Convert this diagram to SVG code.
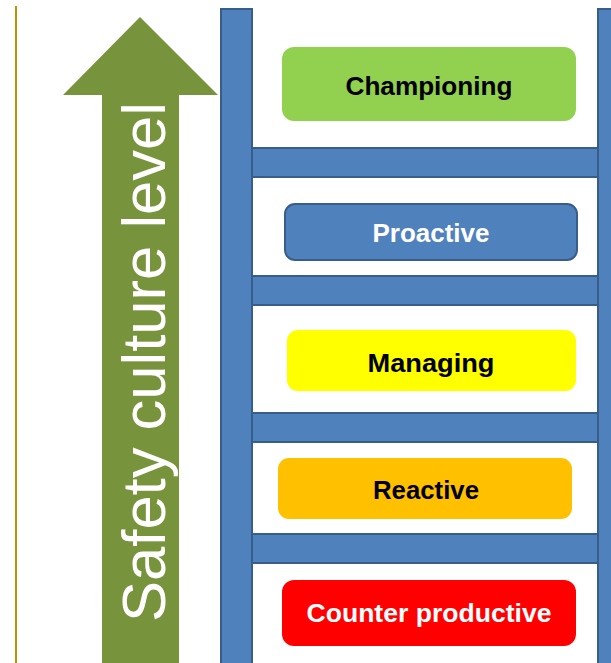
<svg xmlns="http://www.w3.org/2000/svg" width="611" height="663" viewBox="0 0 611 663">
  <style>
    .rail { fill: #4f81bd; stroke: #385d8a; stroke-width: 2; }
    .level { stroke-width: 0; }
    .label { font-family: "Liberation Sans", Arial, sans-serif; font-weight: bold; font-size: 26px; text-anchor: middle; }
    .dark { fill: #000000; }
    .light { fill: #ffffff; }
  </style>
  <rect width="611" height="663" fill="#ffffff"/>

  <!-- left margin rule -->
  <line x1="16" y1="6" x2="16" y2="663" stroke="#bf9000" stroke-width="2"/>

  <!-- upward arrow with axis title -->
  <g id="axis-arrow">
    <polygon points="140,17 218,95 179,95 179,663 102,663 102,95 63,95" fill="#77933c"/>
    <text transform="translate(165,622) rotate(-90)" font-family="'Liberation Sans', Arial, sans-serif" font-size="61" fill="#ffffff" textLength="520" lengthAdjust="spacingAndGlyphs">Safety culture level</text>
  </g>

  <!-- ladder -->
  <g id="connectors">
    <rect class="rail" x="240" y="148" width="370" height="29"/>
    <rect class="rail" x="240" y="276" width="370" height="29"/>
    <rect class="rail" x="240" y="413" width="370" height="29"/>
    <rect class="rail" x="240" y="534" width="370" height="29"/>
    <rect class="rail" x="221" y="9" width="31" height="660"/>
    <rect class="rail" x="598" y="9" width="20" height="660"/>
  </g>

  <g id="championing">
    <rect x="282" y="47" width="294" height="74" rx="12" fill="#92d050"/>
    <text class="label dark" x="429" y="95" textLength="167" lengthAdjust="spacingAndGlyphs">Championing</text>
  </g>
  <g id="proactive">
    <rect x="285" y="204" width="292" height="56" rx="10" fill="#4f81bd" stroke="#385d8a" stroke-width="2"/>
    <text class="label light" x="431" y="242">Proactive</text>
  </g>
  <g id="managing">
    <rect x="287" y="330" width="289" height="61" rx="11" fill="#ffff00"/>
    <text class="label dark" x="431" y="372" textLength="127" lengthAdjust="spacingAndGlyphs">Managing</text>
  </g>
  <g id="reactive">
    <rect x="278" y="458" width="294" height="61" rx="11" fill="#ffc000"/>
    <text class="label dark" x="426" y="499" textLength="106" lengthAdjust="spacingAndGlyphs">Reactive</text>
  </g>
  <g id="counter-productive">
    <rect x="282" y="580" width="294" height="66" rx="12" fill="#ff0000"/>
    <text class="label light" x="429" y="622" textLength="245" lengthAdjust="spacingAndGlyphs">Counter productive</text>
  </g>
</svg>
